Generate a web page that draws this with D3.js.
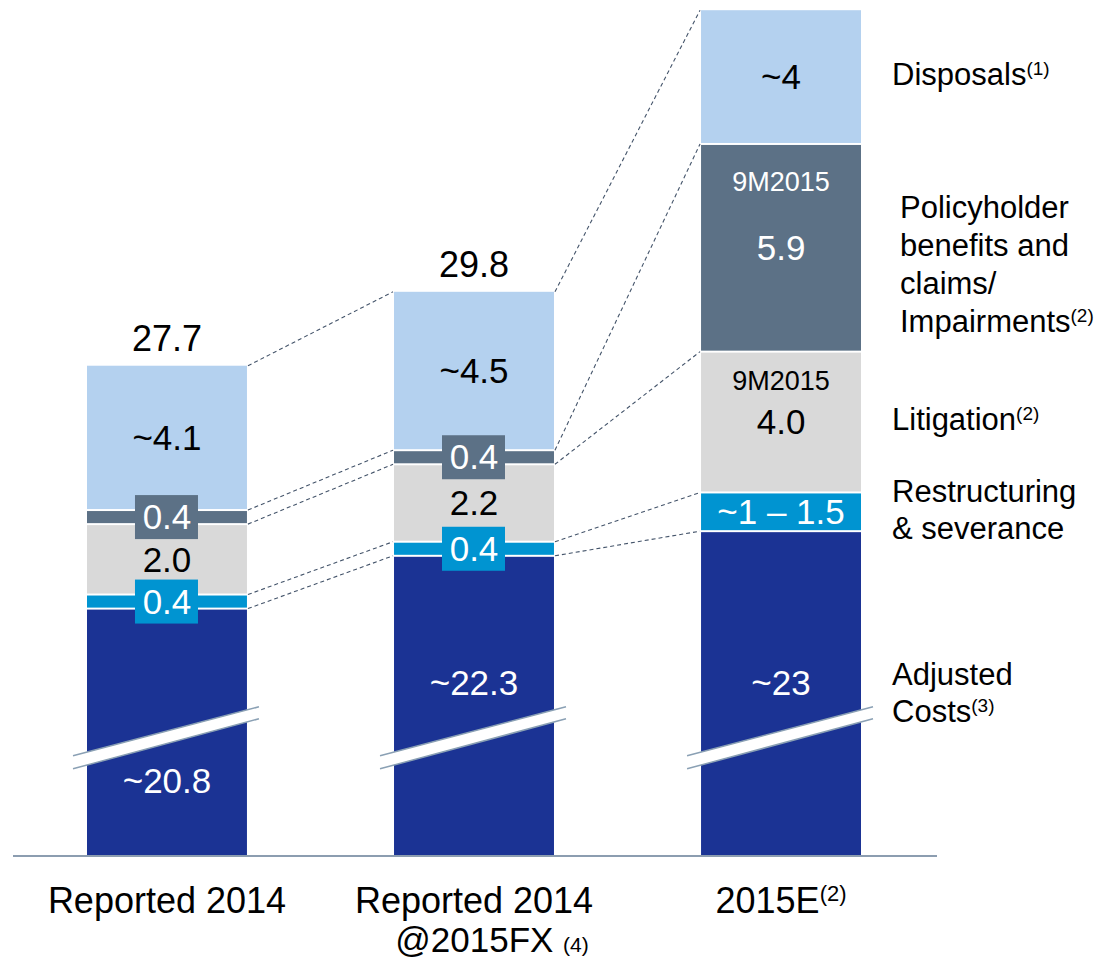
<!DOCTYPE html>
<html lang="en">
<head>
	<meta charset="utf-8">
	<title>Costs bridge</title>
	<script src="https://d3js.org/d3.v7.min.js"></script>
	<style>
	body { margin: 0; background: #ffffff; }
	svg text { font-family: "Liberation Sans", Arial, sans-serif; }
	</style>
</head>
<body>
<div id="chart"></div>
<script>

// Categories and values (EUR bn)
var categories = ["Reported 2014", "Reported 2014 @2015FX", "2015E"];
var adjusted = [20.8, 22.3, 23];
var restructuring = [0.4, 0.4, 1.1];
var litigation = [2.0, 2.2, 4.0];
var policyholder = [0.4, 0.4, 5.9];
var disposals = [4.1, 4.5, 3.8];

// Texts shown in the segments
var adjustedLabels = ["~20.8", "~22.3", "~23"];
var restructuringLabels = ["0.4", "0.4", "~1 \u2013 1.5"];
var litigationLabels = ["2.0", "2.2", "4.0"];
var policyholderLabels = ["0.4", "0.4", "5.9"];
var disposalsLabels = ["~4.1", "~4.5", "~4"];
var totalLabels = ["27.7", "29.8", ""];
var noteLabels = ["", "", "9M2015"];

var width = 1101, height = 961;

var svg = d3.select("#chart").append("svg")
	.attr("width", width)
	.attr("height", height);

//Scales
var xScale = d3.scaleBand()
	.domain(categories)
	.range([87, 861])
	.paddingInner(0.479)
	.paddingOuter(0);

var yScale = d3.scaleLinear()
	.domain([13.8, 38.09])
	.range([855, 0]);

var bw = xScale.bandwidth();
var yBase = yScale.domain()[0];

//Series bottom to top
var series = [
	{ key: "adjusted", values: adjusted, labels: adjustedLabels, color: "#1b3394", text: "#ffffff" },
	{ key: "restructuring", values: restructuring, labels: restructuringLabels, color: "#0094d1", text: "#ffffff" },
	{ key: "litigation", values: litigation, labels: litigationLabels, color: "#d9d9d9", text: "#000000" },
	{ key: "policyholder", values: policyholder, labels: policyholderLabels, color: "#5c7186", text: "#ffffff" },
	{ key: "disposals", values: disposals, labels: disposalsLabels, color: "#b4d1ef", text: "#000000" }
];

// build stacked segments
var segs = [];
categories.forEach(function(c, i){
	var y0 = yBase;
	series.forEach(function(s, k){
		var y1 = (k == 0) ? s.values[i] : y0 + s.values[i];
		segs.push({ cat: c, i: i, k: k, y0: y0, y1: y1, s: s });
		y0 = y1;
	});
});

// dashed connectors between bars
var conn = svg.append("g");
for (var i = 0; i < categories.length - 1; i++) {
	for (var k = 0; k < series.length; k++) {
		var a = segs.filter(function(d){ return d.i == i && d.k == k; })[0];
		var b = segs.filter(function(d){ return d.i == i + 1 && d.k == k; })[0];
		conn.append("line")
			.attr("x1", xScale(categories[i]) + bw + 1)
			.attr("y1", yScale(a.y1))
			.attr("x2", xScale(categories[i + 1]) - 1)
			.attr("y2", yScale(b.y1))
			.attr("stroke", "#44546a")
			.attr("stroke-width", 1.1)
			.attr("stroke-dasharray", "4,3");
	}
}

//Bars
svg.append("g").selectAll("rect")
	.data(segs)
	.enter()
	.append("rect")
	.attr("x", function(d){ return xScale(d.cat); })
	.attr("y", function(d){ return yScale(d.y1) + (d.k == series.length - 1 ? 0 : 1); })
	.attr("width", bw)
	.attr("height", function(d){
		var top = yScale(d.y1) + (d.k == series.length - 1 ? 0 : 1);
		var bot = yScale(d.y0) - (d.k == 0 ? 0 : 1);
		return bot - top;
	})
	.attr("fill", function(d){ return d.s.color; });

// axis line
svg.append("line")
	.attr("x1", 13).attr("x2", 937)
	.attr("y1", yScale(yBase) + 1).attr("y2", yScale(yBase) + 1)
	.attr("stroke", "#8c9db0")
	.attr("stroke-width", 2);

// break marks on the adjusted costs
var breakY = yScale(17.3);
var brk = svg.append("g");
categories.forEach(function(c){
	var xl = xScale(c) - 14, xr = xScale(c) + bw + 12;
	var yl = breakY + 24, yr = breakY - 25;
	brk.append("polygon")
		.attr("points", [[xl, yl], [xr, yr], [xr, yr + 12], [xl, yl + 13]].join(" "))
		.attr("fill", "#ffffff");
	brk.append("line").attr("x1", xl).attr("y1", yl).attr("x2", xr).attr("y2", yr)
		.attr("stroke", "#8aa0b4").attr("stroke-width", 1.5);
	brk.append("line").attr("x1", xl).attr("y1", yl + 13).attr("x2", xr).attr("y2", yr + 12)
		.attr("stroke", "#8aa0b4").attr("stroke-width", 1.5);
});

// segment labels
var lab = svg.append("g");
segs.forEach(function(d){
	var cx = xScale(d.cat) + bw / 2;
	var cy = (yScale(d.y0) + yScale(d.y1)) / 2;
	var txt = d.s.labels[d.i];
	if (d.k == 0) {
		cy = (yScale(d.y1) < breakY - 150) ? breakY - 49 : breakY + 49;
	}
	var small = (yScale(d.y0) - yScale(d.y1)) < 30 && txt.length <= 3;
	if (small) {
		lab.append("rect")
			.attr("x", cx - 32).attr("y", cy - 22)
			.attr("width", 63).attr("height", 44)
			.attr("fill", d.s.color);
	}
	lab.append("text")
		.attr("x", cx)
		.attr("y", cy)
		.attr("dy", "0.35em")
		.attr("text-anchor", "middle")
		.attr("font-size", "35px")
		.attr("fill", d.s.text)
		.text(txt);
	// 9M2015 note above the 2015 litigation and policyholder values
	if (noteLabels[d.i] != "" && (d.s.key == "litigation" || d.s.key == "policyholder")) {
		var off = d.s.key == "litigation" ? 44 : 69;
		lab.append("text")
			.attr("x", cx)
			.attr("y", cy + 12 - off)
			.attr("text-anchor", "middle")
			.attr("font-size", "27px")
			.attr("fill", d.s.text)
			.text(noteLabels[d.i]);
	}
});

// totals
categories.forEach(function(c, i){
	var top = segs.filter(function(d){ return d.i == i && d.k == series.length - 1; })[0];
	svg.append("text")
		.attr("x", xScale(c) + bw / 2)
		.attr("y", yScale(top.y1) - 15)
		.attr("text-anchor", "middle")
		.attr("font-size", "36px")
		.attr("fill", "#000000")
		.text(totalLabels[i]);
});

// category labels
function supText(sel, main, sup, supSize) {
	sel.append("tspan").text(main);
	sel.append("tspan").attr("font-size", supSize).attr("dy", "-0.55em").text(sup);
}
var cl = svg.append("g").attr("font-size", "36px").attr("fill", "#000000");
cl.append("text").attr("x", xScale(categories[0]) + bw / 2).attr("y", 913)
	.attr("text-anchor", "middle").text("Reported 2014");
cl.append("text").attr("x", xScale(categories[1]) + bw / 2).attr("y", 913)
	.attr("text-anchor", "middle").text("Reported 2014");
var fx = cl.append("text").attr("x", xScale(categories[1]) + bw / 2 + 18).attr("y", 952)
	.attr("text-anchor", "middle").attr("font-size", "35px");
fx.append("tspan").text("@2015FX ");
fx.append("tspan").attr("font-size", "21px").text("(4)");
supText(cl.append("text").attr("x", xScale(categories[2]) + bw / 2).attr("y", 913)
	.attr("text-anchor", "middle"), "2015E", "(2)", "22px");

// legend at the right, next to the 2015E bar
var lg = svg.append("g").attr("font-size", "31px").attr("fill", "#000000");
supText(lg.append("text").attr("x", 892).attr("y", 85), "Disposals", "(1)", "19px");

var pLines = ["Policyholder", "benefits and", "claims/"];
pLines.forEach(function(t, j){
	lg.append("text").attr("x", 900).attr("y", 218 + j * 38).text(t);
});
supText(lg.append("text").attr("x", 900).attr("y", 332), "Impairments", "(2)", "19px");

supText(lg.append("text").attr("x", 892).attr("y", 430), "Litigation", "(2)", "19px");
lg.append("text").attr("x", 892).attr("y", 502).text("Restructuring");
lg.append("text").attr("x", 892).attr("y", 539).text("& severance");
lg.append("text").attr("x", 892).attr("y", 685).text("Adjusted");
supText(lg.append("text").attr("x", 892).attr("y", 722), "Costs", "(3)", "19px");

</script>
</body>
</html>
